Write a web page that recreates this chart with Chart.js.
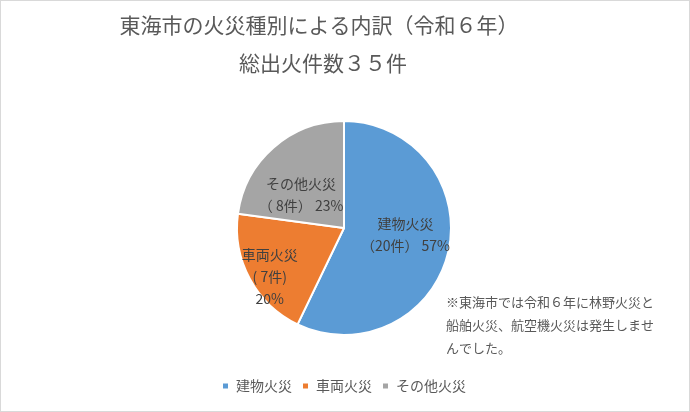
<!DOCTYPE html>
<html>
<head>
<meta charset="utf-8">
<script src="https://cdn.jsdelivr.net/npm/chart.js@4/dist/chart.umd.min.js"></script>
<style>
  html, body { margin: 0; padding: 0; background: #fff; }
  #wrap { width: 690px; height: 412px; }
</style>
</head>
<body>
<div id="wrap"><canvas id="fireChart" width="690" height="412"></canvas></div>
<script>
const FONT = '"Noto Sans CJK JP", "Noto Sans", sans-serif';

// data
const categories = ['建物火災', '車両火災', 'その他火災'];
const counts = [20, 7, 8];
const colors = ['#5B9BD5', '#ED7D31', '#A5A5A5'];
const titleLines = ['東海市の火災種別による内訳（令和６年）', '総出火件数３５件'];
const noteLines = ['※東海市では令和６年に林野火災と', '船舶火災、航空機火災は発生しませ', 'んでした。'];

const total = counts.reduce((a, b) => a + b, 0);

// text inside the slices (name, count, percent)
const sliceLabels = {
  id: 'sliceLabels',
  afterDatasetsDraw(chart, args, opts) {
    const ctx = chart.ctx;
    const meta = chart.getDatasetMeta(0);
    ctx.save();
    ctx.font = '14px ' + FONT;
    ctx.fillStyle = '#404040';
    ctx.textAlign = 'center';
    ctx.textBaseline = 'middle';
    meta.data.forEach((arc, i) => {
      const pct = Math.round(counts[i] / total * 100) + '%';
      let lines;
      if (i === 1) lines = [categories[i], '( ' + counts[i] + '件)', pct];
      else lines = [categories[i], '（' + (counts[i] < 10 ? ' ' : '') + counts[i] + '件） ' + pct];
      const mid = (arc.startAngle + arc.endAngle) / 2;
      const r = arc.outerRadius * opts.radius[i];
      const x = arc.x + Math.cos(mid) * r + opts.nudge[i][0];
      const y = arc.y + Math.sin(mid) * r + opts.nudge[i][1];
      const lh = 22;
      lines.forEach((t, k) => {
        ctx.fillText(t, x, y + (k - (lines.length - 1) / 2) * lh);
      });
    });
    ctx.restore();
  }
};

// title, note and outer frame
const extras = {
  id: 'extras',
  afterDraw(chart) {
    const ctx = chart.ctx;
    ctx.save();
    ctx.fillStyle = '#595959';
    ctx.textAlign = 'center';
    ctx.textBaseline = 'middle';
    ctx.font = '21px ' + FONT;
    ctx.fillText(titleLines[0], 319, 25);
    ctx.fillText(titleLines[1], 323, 63);

    ctx.textAlign = 'left';
    ctx.font = '13px ' + FONT;
    noteLines.forEach((t, k) => ctx.fillText(t, 446, 302 + k * 23));

    ctx.strokeStyle = '#D9D9D9';
    ctx.lineWidth = 1;
    ctx.strokeRect(0.5, 0.5, chart.width - 1, chart.height - 1);
    ctx.restore();
  }
};

const ctx = document.getElementById('fireChart').getContext('2d');
new Chart(ctx, {
  type: 'pie',
  data: {
    labels: categories,
    datasets: [{
      data: counts,
      backgroundColor: colors,
      borderColor: '#ffffff',
      borderWidth: 2,
      radius: 107
    }]
  },
  options: {
    responsive: false,
    animation: false,
    layout: { padding: { top: 87, bottom: 9, left: 0, right: 2 } },
    plugins: {
      title: { display: false },
      tooltip: { enabled: false },
      legend: {
        position: 'bottom',
        labels: {
          boxWidth: 7,
          boxHeight: 7,
          padding: 10,
          color: '#595959',
          font: { family: FONT, size: 14 }
        }
      },
      sliceLabels: {
        radius: [0.57, 0.83, 0.51],
        nudge: [[2, -7], [4, 7], [-7, 8]]
      }
    }
  },
  plugins: [sliceLabels, extras]
});
</script>
</body>
</html>
